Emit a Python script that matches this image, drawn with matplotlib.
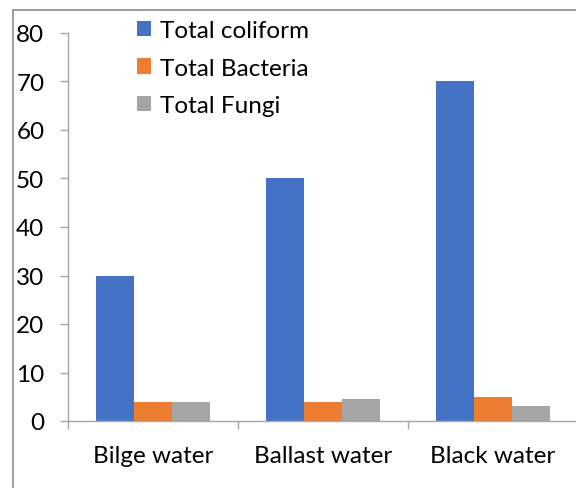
import matplotlib
matplotlib.use("Agg")
import matplotlib.pyplot as plt
import numpy as np
from matplotlib.patches import Rectangle

categories = ["Bilge water", "Ballast water", "Black water"]
series_names = ["Total coliform", "Total Bacteria", "Total Fungi"]
coliform = [30, 50, 70]
bacteria = [4, 4, 5]
fungi = [4, 4.5, 3]
colors = ["#4472C4", "#ED7D31", "#A5A5A5"]
yticks = [0, 10, 20, 30, 40, 50, 60, 70, 80]

plt.rcParams['font.family'] = ['Lato', 'DejaVu Sans']

W, H = 576, 489
fig = plt.figure(figsize=(W/100, H/100), dpi=100)

# outer frame
fig.patches.append(Rectangle((13/W, -0.1), 1.2, (H-11)/H + 0.1, transform=fig.transFigure,
                             fill=False, edgecolor="#8C8C8C", linewidth=1.2))

ax = fig.add_axes([68/W, (H-422)/H, 510/W, 388/H])
x = np.arange(len(categories))
w = 0.222
for i, (vals, name) in enumerate(zip([coliform, bacteria, fungi], series_names)):
    ax.bar(x + (i-1)*w, vals, width=w, color=colors[i], label=name, zorder=2)

fs = 17.5
ax.set_xlim(-0.5, 2.5)
ax.set_ylim(0, 80)
ax.set_yticks(yticks)
ax.set_xticks(x)
ax.set_xticklabels(categories)
ax.set_xticks([-0.5, 0.5, 1.5, 2.5], minor=True)
ax.tick_params(axis='x', which='major', length=0, pad=17, labelsize=fs)
ax.tick_params(axis='x', which='minor', length=6, color="#A6A6A6", width=1)
ax.tick_params(axis='y', length=6, color="#A6A6A6", width=1, labelsize=fs, pad=11)
for s in ['top', 'right']:
    ax.spines[s].set_visible(False)
for s in ['left', 'bottom']:
    ax.spines[s].set_color("#A6A6A6")
    ax.spines[s].set_linewidth(1)

leg = fig.legend(loc='upper left', bbox_to_anchor=(137/W, 1 - 21/H), frameon=False,
                 fontsize=fs, handlelength=0.58, handleheight=0.58, handletextpad=0.35,
                 labelspacing=0.68, borderaxespad=0, borderpad=0)

fig.savefig("out.png", dpi=100)
